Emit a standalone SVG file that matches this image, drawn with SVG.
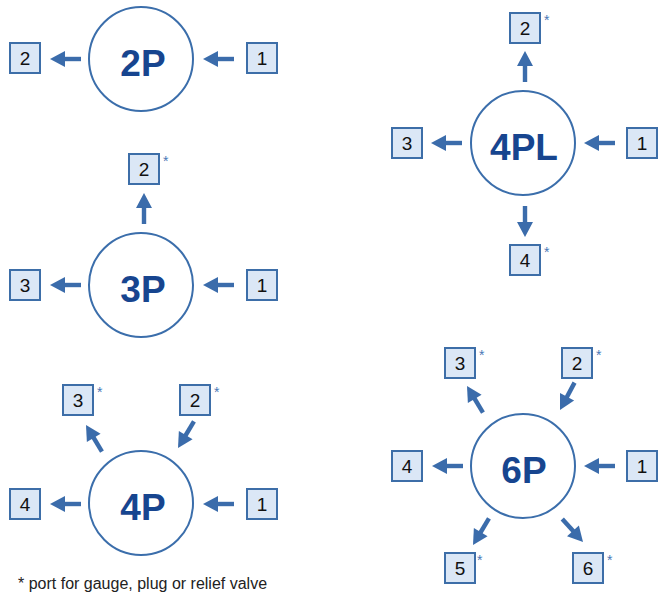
<svg xmlns="http://www.w3.org/2000/svg" xmlns:xlink="http://www.w3.org/1999/xlink" width="660" height="594" viewBox="0 0 660 594">
<style>
.c{fill:#fff;stroke:#3b6eab;stroke-width:2}
.cl{font-family:"Liberation Sans",Arial,sans-serif;font-weight:bold;font-size:37px;fill:#17458f;text-anchor:middle}
.b{fill:#dbe7f6;stroke:#3d6ea8;stroke-width:2}
.n{font-family:"Liberation Sans",Arial,sans-serif;font-size:19px;fill:#111;text-anchor:middle}
.s{font-family:"Liberation Sans",Arial,sans-serif;font-size:14px;fill:#4a78b5}
.f{font-family:"Liberation Sans",Arial,sans-serif;font-size:16px;fill:#222}
.a{fill:#3b6cab}
</style>
<defs>
<g id="arr"><path d="M0,0 L-15,-8 L-15,8 Z"/><rect x="-31" y="-2.2" width="17" height="4.4"/></g>
</defs>
<rect width="660" height="594" fill="#fff"/>
<g id="connectors" class="a">
<use xlink:href="#arr" transform="translate(50,59) rotate(180)"/>
<use xlink:href="#arr" transform="translate(203,59) rotate(180)"/>
<use xlink:href="#arr" transform="translate(50,285) rotate(180)"/>
<use xlink:href="#arr" transform="translate(203,285) rotate(180)"/>
<use xlink:href="#arr" transform="translate(144,193) rotate(-90)"/>
<use xlink:href="#arr" transform="translate(50,504) rotate(180)"/>
<use xlink:href="#arr" transform="translate(203,504) rotate(180)"/>
<use xlink:href="#arr" transform="translate(86,425) rotate(-121)"/>
<use xlink:href="#arr" transform="translate(178,448) rotate(121)"/>
<use xlink:href="#arr" transform="translate(431,143) rotate(180)"/>
<use xlink:href="#arr" transform="translate(584,143) rotate(180)"/>
<use xlink:href="#arr" transform="translate(525,51) rotate(-90)"/>
<use xlink:href="#arr" transform="translate(525,237) rotate(90)"/>
<use xlink:href="#arr" transform="translate(432,466) rotate(180)"/>
<use xlink:href="#arr" transform="translate(584,466) rotate(180)"/>
<use xlink:href="#arr" transform="translate(467,386) rotate(-121)"/>
<use xlink:href="#arr" transform="translate(560,410) rotate(118)"/>
<use xlink:href="#arr" transform="translate(473,545) rotate(121)"/>
<use xlink:href="#arr" transform="translate(583,542) rotate(48)"/>
</g>
<g id="v2P">
<circle class="c" cx="141" cy="59" r="52"/><text class="cl" x="143" y="76">2P</text>
</g>
<g id="v2P-2"><rect class="b" x="10" y="43" width="30" height="30"/><text class="n" x="25" y="65">2</text></g>
<g id="v2P-1"><rect class="b" x="247" y="43" width="30" height="30"/><text class="n" x="262" y="65">1</text></g>
<g id="v3P">
<circle class="c" cx="141" cy="285" r="52"/><text class="cl" x="143" y="302">3P</text>
</g>
<g id="v3P-2"><rect class="b" x="129" y="154" width="30" height="30"/><text class="n" x="144" y="176">2</text><text class="s" x="163" y="166">*</text></g>
<g id="v3P-3"><rect class="b" x="10" y="270" width="30" height="30"/><text class="n" x="25" y="292">3</text></g>
<g id="v3P-1"><rect class="b" x="247" y="270" width="30" height="30"/><text class="n" x="262" y="292">1</text></g>
<g id="v4P">
<circle class="c" cx="141" cy="503" r="52"/><text class="cl" x="143" y="520">4P</text>
</g>
<g id="v4P-3"><rect class="b" x="63" y="385" width="30" height="30"/><text class="n" x="78" y="407">3</text><text class="s" x="97" y="397">*</text></g>
<g id="v4P-2"><rect class="b" x="180" y="385" width="30" height="30"/><text class="n" x="195" y="407">2</text><text class="s" x="214" y="397">*</text></g>
<g id="v4P-4"><rect class="b" x="10" y="489" width="30" height="30"/><text class="n" x="25" y="511">4</text></g>
<g id="v4P-1"><rect class="b" x="247" y="489" width="30" height="30"/><text class="n" x="262" y="511">1</text></g>
<g id="v4PL">
<circle class="c" cx="523" cy="143" r="52"/><text class="cl" x="524" y="160">4PL</text>
</g>
<g id="v4PL-2"><rect class="b" x="510" y="13" width="30" height="30"/><text class="n" x="525" y="35">2</text><text class="s" x="544" y="25">*</text></g>
<g id="v4PL-3"><rect class="b" x="392" y="128" width="30" height="30"/><text class="n" x="407" y="150">3</text></g>
<g id="v4PL-1"><rect class="b" x="627" y="128" width="30" height="30"/><text class="n" x="642" y="150">1</text></g>
<g id="v4PL-4"><rect class="b" x="510" y="245" width="30" height="30"/><text class="n" x="525" y="267">4</text><text class="s" x="544" y="257">*</text></g>
<g id="v6P">
<circle class="c" cx="523" cy="466" r="52"/><text class="cl" x="524" y="483">6P</text>
</g>
<g id="v6P-3"><rect class="b" x="445" y="348" width="30" height="30"/><text class="n" x="460" y="370">3</text><text class="s" x="479" y="360">*</text></g>
<g id="v6P-2"><rect class="b" x="562" y="348" width="30" height="30"/><text class="n" x="577" y="370">2</text><text class="s" x="596" y="360">*</text></g>
<g id="v6P-4"><rect class="b" x="392" y="451" width="30" height="30"/><text class="n" x="407" y="473">4</text></g>
<g id="v6P-1"><rect class="b" x="627" y="451" width="30" height="30"/><text class="n" x="642" y="473">1</text></g>
<g id="v6P-5"><rect class="b" x="445" y="553" width="30" height="30"/><text class="n" x="460" y="575">5</text><text class="s" x="477" y="565">*</text></g>
<g id="v6P-6"><rect class="b" x="573" y="553" width="30" height="30"/><text class="n" x="588" y="575">6</text><text class="s" x="607" y="565">*</text></g>
<text class="f" x="18" y="589">* port for gauge, plug or relief valve</text>
</svg>
